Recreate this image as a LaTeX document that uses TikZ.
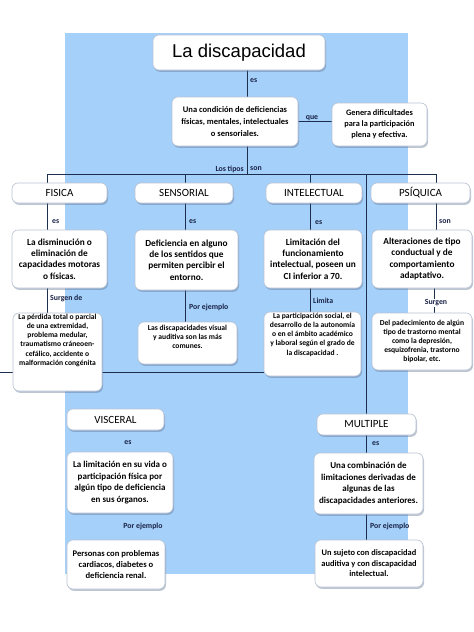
\documentclass[tikz,border=0pt]{standalone}
\usepackage{fontspec}
\setmainfont{Carlito}
\newfontfamily\titlefont{Liberation Sans}
\usetikzlibrary{shadows}
\pgfdeclarelayer{back}
\pgfdeclarelayer{lines}
\pgfsetlayers{back,lines,main}
\definecolor{bgblue}{RGB}{165,208,250}
\definecolor{linec}{RGB}{28,48,78}
\definecolor{labc}{RGB}{25,35,70}
\definecolor{boxdraw}{RGB}{185,195,210}
\definecolor{shadowc}{RGB}{90,110,140}
\newcommand{\topbox}[3]{\begin{minipage}[c][#1][t]{#2}\centering #3\end{minipage}}
\tikzset{
  cbox/.style={draw=boxdraw, line width=0.6pt, fill=white, rounded corners=6pt,
    align=center, inner sep=1pt, text=black,
    drop shadow={opacity=0.4, shadow xshift=1pt, shadow yshift=-1.8pt, fill=shadowc}},
  conn/.style={draw=linec, line width=0.8pt},
  lab/.style={font=\bfseries\fontsize{7.8}{9}\selectfont, text=labc, inner sep=0pt},
  hdr/.style={cbox, font=\fontsize{11}{12}\selectfont, minimum height=20pt},
  deftext/.style={font=\bfseries\fontsize{9.3}{11.2}\selectfont},
  extext/.style={font=\bfseries\fontsize{7.6}{9.2}\selectfont},
  sz/.style n args={2}{minimum width=#1pt, minimum height=#2pt},
}
\begin{document}
\begin{tikzpicture}[x=1pt,y=-1pt]
\useasboundingbox (0,0) rectangle (474,632);
\begin{pgfonlayer}{back}
\fill[bgblue] (65,33) rectangle (408,574);
\end{pgfonlayer}

% nodes
\node[cbox, sz={172}{35}, font=\titlefont\fontsize{18.5}{22}\selectfont] (title) at (239,52.5) {La discapacidad};
\node[cbox, sz={126}{49}, font=\bfseries\fontsize{8.5}{12}\selectfont] (cond) at (235,121.5)
  {Una condición de deficiencias\\físicas, mentales, intelectuales\\o sensoriales.};
\node[cbox, sz={95}{43}, font=\bfseries\fontsize{8.3}{11}\selectfont] (gen) at (379.5,124.5)
  {Genera dificultades\\para la participación\\plena y efectiva.};

\node[hdr, sz={95}{20}] (fis) at (59.5,193) {FISICA};
\node[hdr, sz={98}{20}] (sen) at (184,193) {SENSORIAL};
\node[hdr, sz={96}{20}] (int) at (314,193) {INTELECTUAL};
\node[hdr, sz={99}{20}] (psi) at (420.5,193) {PSÍQUICA};

\node[cbox, deftext, sz={95}{58}] (fisdef) at (59.5,259)
  {La disminución o\\eliminación de\\capacidades motoras\\o físicas.};
\node[cbox, deftext, sz={103}{60}] (sendef) at (186.5,260)
  {Deficiencia en alguno\\de los sentidos que\\permiten percibir el\\entorno.};
\node[cbox, deftext, sz={98}{58}] (intdef) at (313,259)
  {Limitación del\\funcionamiento\\intelectual, poseen un\\CI inferior a 70.};
\node[cbox, deftext, sz={100}{58}] (psidef) at (422,259)
  {Alteraciones de tipo\\conductual y de\\comportamiento\\adaptativo.};

\node[cbox, extext, inner sep=0pt] (fisex) at (57.5,352)
  {\topbox{78pt}{89pt}{\vspace{1pt}La pérdida total o parcial\\de una extremidad,\\problema medular,\\traumatismo cráneoen-\\cefálico, accidente o\\malformación congénita}};
\node[cbox, extext, sz={99}{42}] (senex) at (187.5,343)
  {Las discapacidades visual\\y auditiva son las más\\comunes.\\[3pt]};
\node[cbox, extext, inner sep=0pt] (intex) at (312.5,344)
  {\topbox{64pt}{97pt}{\vspace{1pt}La participación social, el\\desarrollo de la autonomía\\o en el ámbito académico\\y laboral según el grado de\\la discapacidad .}};
\node[cbox, extext, sz={100}{57}] (psiex) at (422,341.5)
  {Del padecimiento de algún\\tipo de trastorno mental\\como la depresión,\\esquizofrenia, trastorno\\bipolar, etc.};

\node[hdr, sz={97}{21}] (vis) at (115.5,419.5) {VISCERAL};
\node[cbox, font=\bfseries\fontsize{9}{11.7}\selectfont, sz={106}{61}] (visdef) at (120,482.5)
  {La limitación en su vida o\\participación física por\\algún tipo de deficiencia\\en sus órganos.};
\node[cbox, font=\bfseries\fontsize{8.6}{11}\selectfont, sz={98}{49}] (visex) at (116,564.5)
  {Personas con problemas\\cardiacos, diabetes o\\deficiencia renal.};

\node[hdr, sz={99}{21}] (mul) at (366.5,424.5) {MULTIPLE};
\node[cbox, font=\bfseries\fontsize{9}{11.7}\selectfont, sz={109}{61}] (muldef) at (368.5,483.5)
  {Una combinación de\\limitaciones derivadas de\\algunas de las\\discapacidades anteriores.};
\node[cbox, font=\bfseries\fontsize{8.4}{10.5}\selectfont, sz={108}{47}] (mulex) at (369,563.5)
  {Un sujeto con discapacidad\\auditiva y con discapacidad\\intelectual.};

% connector coordinates
\coordinate (xa) at (247,0);
\coordinate (busL) at (47,174);
\coordinate (busR) at (436,174);
\coordinate (xsen) at (185,0);
\coordinate (xint) at (310,0);
\coordinate (xmul) at (366,0);
\coordinate (xpsi) at (436,0);
\coordinate (xpsi2) at (434,0);
\coordinate (lineL) at (0,372);

% connectors (behind boxes)
\begin{pgfonlayer}{lines}
\draw[conn] (title.south -| xa) -- (cond.north -| xa);
\draw[conn] (cond.east) -- (gen.west |- cond.east);
\draw[conn] (cond.south -| xa) -- (xa |- busL);
\draw[conn] (busL) -- (busR);
\draw[conn] (busL) -- (fis.north -| busL);
\draw[conn] (xsen |- busL) -- (sen.north -| xsen);
\draw[conn] (xint |- busL) -- (int.north -| xint);
\draw[conn] (busR) -- (psi.north -| busR);
\draw[conn] (xmul |- busL) -- (mul.north -| xmul);
\draw[conn] (fis.south -| busL) -- (fisdef.north -| busL);
\draw[conn] (fisdef.south -| busL) -- (fisex.north -| busL);
\draw[conn] (sen.south -| xsen) -- (sendef.north -| xsen);
\draw[conn] (sendef.south -| xsen) -- (senex.north -| xsen);
\draw[conn] (int.south -| xint) -- (intdef.north -| xint);
\draw[conn] (intdef.south -| xint) -- (intex.north -| xint);
\draw[conn] (psi.south -| xpsi) -- (psidef.north -| xpsi);
\draw[conn] (psidef.south -| xpsi2) -- (psiex.north -| xpsi2);
\draw[conn] (mul.south -| xmul) -- (muldef.north -| xmul);
\draw[conn] (muldef.south -| xmul) -- (mulex.north -| xmul);
\draw[conn] (lineL) -- (intex.west |- lineL);
\end{pgfonlayer}

% labels
\node[lab, anchor=west] (l1) at (250,81) {es};
\node[lab] (l2) at (312,118) {que};
\node[lab, anchor=east] (l3) at (244,169) {Los tipos};
\node[lab, anchor=west] (l4) at (250,169) {son};
\node[lab, anchor=west] (l5) at (52,222) {es};
\node[lab, anchor=west] (l6) at (50,298) {Surgen de};
\node[lab, anchor=west] (l7) at (189,222) {es};
\node[lab, anchor=west] (l8) at (189,307) {Por ejemplo};
\node[lab, anchor=west] (l9) at (315,223) {es};
\node[lab, anchor=west] (l10) at (313,301) {Limita};
\node[lab, anchor=west] (l11) at (439,222) {son};
\node[lab, fill=white, inner sep=1pt] (l12) at (436,303) {Surgen};
\node[lab] (l13) at (128,443) {es};
\node[lab] (l14) at (143,526) {Por ejemplo};
\node[lab, anchor=west] (l15) at (372,444) {es};
\node[lab, anchor=west] (l16) at (370,526) {Por ejemplo};
\end{tikzpicture}
\end{document}
